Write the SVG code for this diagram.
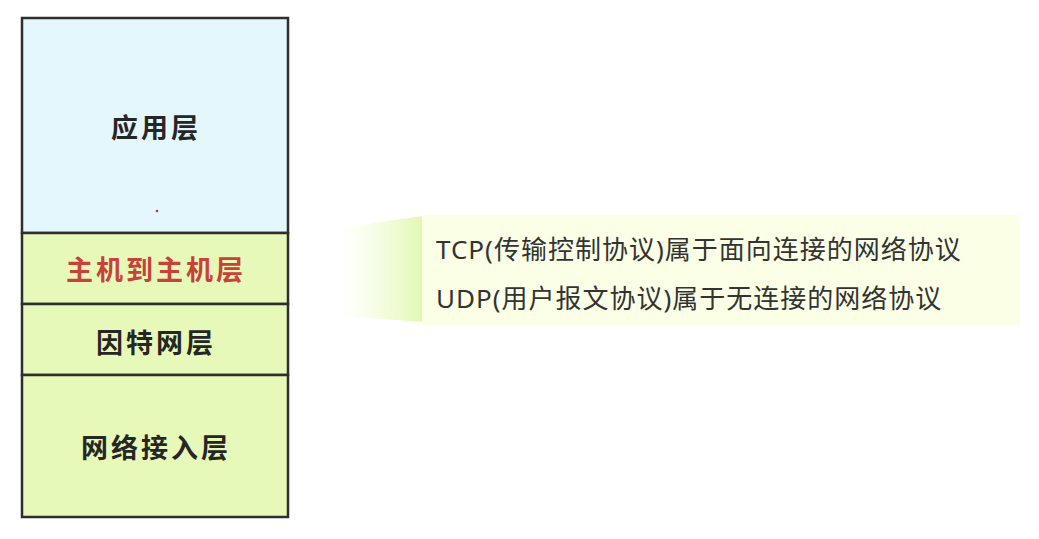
<svg xmlns="http://www.w3.org/2000/svg" width="1039" height="539" viewBox="0 0 1039 539">
<style>
.layer{stroke:#2e2e2e;stroke-width:2.5}
.lbl{font-family:"Noto Sans CJK SC","Noto Sans",sans-serif;font-weight:bold;font-size:27px;letter-spacing:3px;fill:#262626;text-anchor:middle}
.note{font-family:"Noto Sans","Noto Sans CJK SC",sans-serif;font-size:26px;letter-spacing:1px;fill:#333333}
</style>
<defs>
<linearGradient id="fade" x1="0" y1="0" x2="1" y2="0">
<stop offset="0" stop-color="#eefcd0" stop-opacity="0"/>
<stop offset="1" stop-color="#e2f8b2"/>
</linearGradient>
</defs>
<rect width="1039" height="539" fill="#ffffff"/>
<g id="app-layer">
<rect class="layer" x="22" y="18" width="266" height="215" fill="#e4f7fd"/>
<text class="lbl" x="156" y="138">应用层</text>
<circle cx="157" cy="211" r="1.3" fill="#c0304a"/>
</g>
<g id="host-layer">
<rect class="layer" x="22" y="233" width="266" height="71" fill="#e6f9b8"/>
<text class="lbl" x="156" y="280" style="fill:#c8413a">主机到主机层</text>
</g>
<g id="internet-layer">
<rect class="layer" x="22" y="304" width="266" height="71" fill="#e6f9b8"/>
<text class="lbl" x="156" y="353">因特网层</text>
</g>
<g id="netaccess-layer">
<rect class="layer" x="22" y="375" width="266" height="142" fill="#e6f9b8"/>
<text class="lbl" x="156" y="458">网络接入层</text>
</g>
<g id="callout">
<polygon points="340,228 422,216 422,322 340,316" fill="url(#fade)"/>
<rect x="422" y="215" width="598" height="110" fill="#fbffe6"/>
<text class="note" x="436" y="259">TCP(传输控制协议)属于面向连接的网络协议</text>
<text class="note" x="436" y="308">UDP(用户报文协议)属于无连接的网络协议</text>
</g>
<g id="connectors"></g>
</svg>
